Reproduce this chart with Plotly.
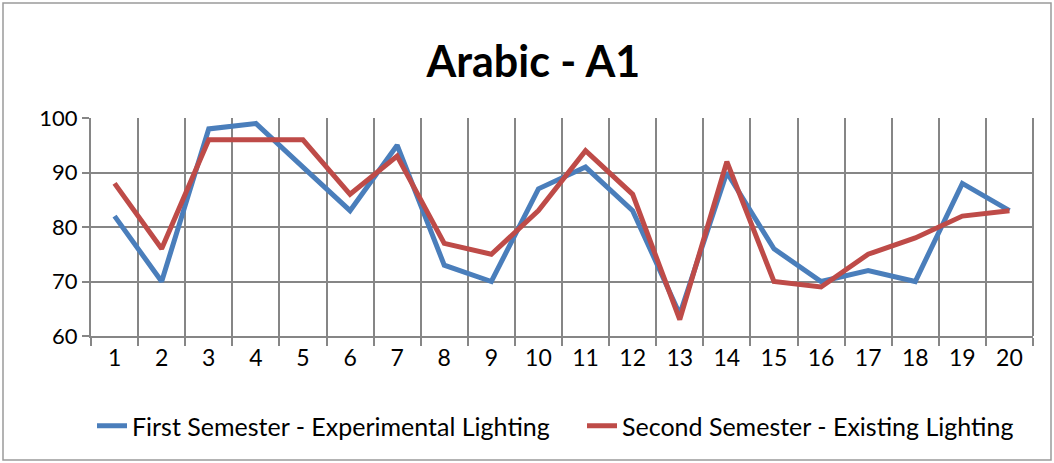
import plotly.graph_objects as go

categories = list(range(1, 21))
first_semester = [82, 70, 98, 99, 91, 83, 95, 73, 70, 87, 91, 83, 64, 90, 76, 70, 72, 70, 88, 83]
second_semester = [88, 76, 96, 96, 96, 86, 93, 77, 75, 83, 94, 86, 63, 92, 70, 69, 75, 78, 82, 83]
series_names = ["First Semester - Experimental Lighting", "Second Semester - Existing Lighting"]
y_ticks = [60, 70, 80, 90, 100]

W, H = 1054, 463
L, R, T, B = 91, 21, 118, 127
pw, ph = W - L - R, H - T - B

fig = go.Figure()
fig.add_trace(go.Scatter(x=categories, y=first_semester, mode="lines", name=series_names[0],
                         line=dict(color="#4A7EBB", width=5), legendwidth=445))
fig.add_trace(go.Scatter(x=categories, y=second_semester, mode="lines", name=series_names[1],
                         line=dict(color="#BE4B48", width=5)))

grid = "#868686"
fig.update_layout(
    width=W, height=H,
    margin=dict(l=L, r=R, t=T, b=B),
    paper_bgcolor="white", plot_bgcolor="white",
    font=dict(family="Lato, Open Sans, sans-serif", size=22, color="black"),
    title=dict(text="<b>Arabic - A1</b>", x=0.506, xanchor="center", y=1 - 62 / H, yanchor="middle",
               font=dict(size=43, family="Lato, Open Sans, sans-serif")),
    showlegend=True,
    legend=dict(orientation="h", x=(98 - 6 - L) / pw, xanchor="left", y=(H - B - 426) / ph,
                yanchor="middle", font=dict(size=25), tracegroupgap=0),
    xaxis=dict(range=[0.5, 20.5], tickvals=categories, ticktext=[str(c) for c in categories],
               showgrid=False, showline=True, linecolor=grid, linewidth=2, ticks="",
               minor=dict(tick0=0.5, dtick=1, showgrid=True, gridcolor=grid, gridwidth=2,
                          ticks="outside", ticklen=8, tickcolor=grid, tickwidth=2),
               tickfont=dict(size=23), fixedrange=True),
    yaxis=dict(range=[60, 100], tickvals=y_ticks, showgrid=True, gridcolor=grid, gridwidth=2,
               showline=True, linecolor=grid, linewidth=2, ticks="outside", ticklen=7,
               tickcolor=grid, tickwidth=2, tickfont=dict(size=22), zeroline=False),
)
fig.add_shape(type="line", xref="paper", yref="paper", x0=1, x1=1, y0=0, y1=1,
              line=dict(color=grid, width=2))
fig.add_shape(type="rect", xref="paper", yref="paper",
              x0=(3 - L) / pw, x1=(1051 - L) / pw, y0=-(460 - (H - B)) / ph, y1=(H - B - 3) / ph,
              line=dict(color="#9A9A9A", width=1.5))

fig.write_html("out.html", config={"displayModeBar": False},
               post_script="document.body.style.margin='0';")
